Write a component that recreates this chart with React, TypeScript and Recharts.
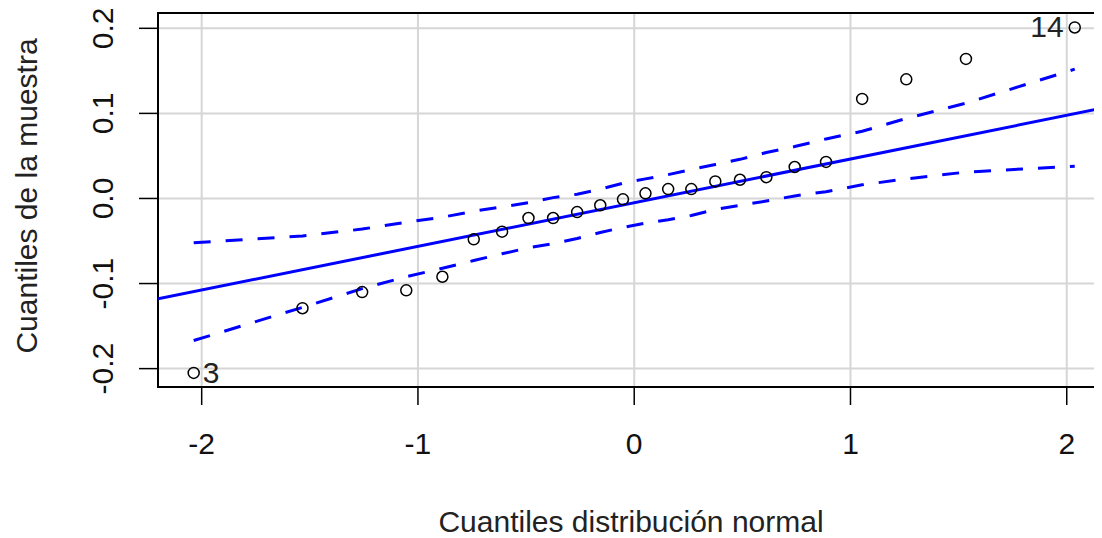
import React from 'react';
import {
  ComposedChart,
  Line,
  Scatter,
  XAxis,
  YAxis,
  CartesianGrid,
  ReferenceArea,
} from 'recharts';

// theoretical normal quantiles (x) and sorted sample values (y)
const normalQuantiles = [
  -2.037, -1.534, -1.258, -1.054, -0.887, -0.742, -0.611, -0.489, -0.375, -0.264, -0.157, -0.052,
  0.052, 0.157, 0.264, 0.375, 0.489, 0.611, 0.742, 0.887, 1.054, 1.258, 1.534, 2.037,
];
const sampleQuantiles = [
  -0.205, -0.129, -0.110, -0.108, -0.092, -0.048, -0.039, -0.023, -0.023, -0.016, -0.008, -0.001,
  0.006, 0.011, 0.011, 0.020, 0.022, 0.025, 0.037, 0.043, 0.117, 0.140, 0.164, 0.201,
];
const pointLabels = ['3', '', '', '', '', '', '', '', '', '', '', '', '', '', '', '', '', '', '', '', '', '', '', '14'];

// confidence envelope
const upperBand = [
  -0.052, -0.044, -0.036, -0.028, -0.022, -0.015, -0.010, -0.005, 0.001, 0.005, 0.011, 0.018,
  0.023, 0.028, 0.034, 0.040, 0.046, 0.054, 0.061, 0.070, 0.079, 0.094, 0.112, 0.152,
];
const lowerBand = [
  -0.167, -0.128, -0.106, -0.092, -0.082, -0.073, -0.065, -0.058, -0.053, -0.047, -0.040, -0.034,
  -0.029, -0.025, -0.020, -0.013, -0.008, -0.003, 0.003, 0.008, 0.016, 0.023, 0.031, 0.038,
];

// reference line end points
const fitX = [-2.202, 2.2];
const fitY = [-0.118, 0.108];

const xTicks = [-2, -1, 0, 1, 2];
const yTicks = [-0.2, -0.1, 0, 0.1, 0.2];
const xDomain = [-2.202, 2.2];
const yDomain = [-0.2216, 0.218];

const points = normalQuantiles.map((x, i) => ({ x, y: sampleQuantiles[i], label: pointLabels[i] }));
const upperData = normalQuantiles.map((x, i) => ({ x, y: upperBand[i] }));
const lowerData = normalQuantiles.map((x, i) => ({ x, y: lowerBand[i] }));
const fitData = fitX.map((x, i) => ({ x, y: fitY[i] }));

const FONT = '"Liberation Sans", Arial, sans-serif';
const BLUE = '#0000ff';

const fmtY = (v: number) => (v === 0 ? '0.0' : v.toFixed(1));

const XTick = (props: any) => {
  const { x, y, payload } = props;
  return (
    <text x={x} y={y + 47} textAnchor="middle" fontSize={30} fontFamily={FONT} fill="#111">
      {payload.value}
    </text>
  );
};

const YTick = (props: any) => {
  const { x, y, payload } = props;
  const bx = x - 24;
  return (
    <text
      x={bx}
      y={y}
      transform={`rotate(-90, ${bx}, ${y})`}
      textAnchor="middle"
      fontSize={30}
      fontFamily={FONT}
      fill="#111"
    >
      {fmtY(payload.value)}
    </text>
  );
};

const PointShape = (props: any) => {
  const { cx, cy, payload } = props;
  const isLeft = payload.x > 0;
  return (
    <g>
      <circle cx={cx} cy={cy} r={5.5} fill="none" stroke="#000" strokeWidth={1.5} />
      {payload.label ? (
        <text
          x={isLeft ? cx - 11 : cx + 9}
          y={cy}
          dy={10}
          textAnchor={isLeft ? 'end' : 'start'}
          fontSize={30}
          fontFamily={FONT}
          fill="#222"
        >
          {payload.label}
        </text>
      ) : null}
    </g>
  );
};

// the page keeps its 8px body margin; the chart is drawn 8px up/left inside its own box
export default function App() {
  return (
    <div style={{ width: 1094, height: 530, overflow: 'hidden', position: 'relative', background: '#fff' }}>
      <ComposedChart width={1102} height={530} margin={{ top: 5, right: 0, bottom: 0, left: 0 }}>
        <CartesianGrid stroke="#d6d6d6" strokeWidth={2} horizontalValues={yTicks} verticalValues={xTicks} />
        <XAxis
          type="number"
          dataKey="x"
          domain={xDomain}
          allowDataOverflow
          ticks={xTicks}
          height={151}
          axisLine={false}
          tickLine={{ stroke: '#000', strokeWidth: 1.5 }}
          tickSize={18}
          tick={<XTick />}
          interval={0}
        />
        <YAxis
          type="number"
          dataKey="y"
          domain={yDomain}
          allowDataOverflow
          ticks={yTicks}
          width={150}
          axisLine={false}
          tickLine={{ stroke: '#000', strokeWidth: 1.5 }}
          tickSize={19}
          tick={<YTick />}
          interval={0}
        />
        <Line data={fitData} dataKey="y" type="linear" stroke={BLUE} strokeWidth={3} dot={false} isAnimationActive={false} />
        <Line
          data={upperData}
          dataKey="y"
          type="linear"
          stroke={BLUE}
          strokeWidth={3}
          strokeDasharray="17 15"
          dot={false}
          isAnimationActive={false}
        />
        <Line
          data={lowerData}
          dataKey="y"
          type="linear"
          stroke={BLUE}
          strokeWidth={3}
          strokeDasharray="17 15"
          dot={false}
          isAnimationActive={false}
        />
        <Scatter data={points} dataKey="y" shape={<PointShape />} isAnimationActive={false} />
        <ReferenceArea
          x1={xDomain[0]}
          x2={xDomain[1]}
          y1={yDomain[0]}
          y2={yDomain[1]}
          fill="none"
          fillOpacity={0}
          stroke="#000"
          strokeWidth={2}
          ifOverflow="visible"
        />
      </ComposedChart>
      <svg width={1094} height={530} style={{ position: 'absolute', left: 0, top: 0, pointerEvents: 'none' }}>
        <text x={623} y={524} textAnchor="middle" fontSize={30} fontFamily={FONT} fill="#222">
          Cuantiles distribución normal
        </text>
        <text
          x={29}
          y={188}
          transform="rotate(-90, 29, 188)"
          textAnchor="middle"
          fontSize={30}
          fontFamily={FONT}
          fill="#222"
        >
          Cuantiles de la muestra
        </text>
      </svg>
    </div>
  );
}
